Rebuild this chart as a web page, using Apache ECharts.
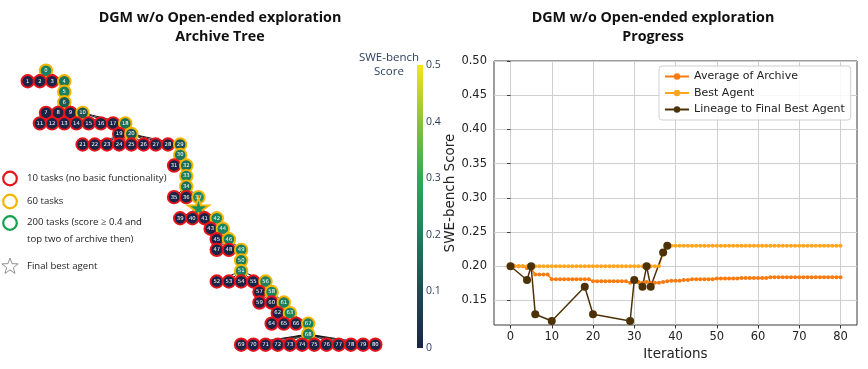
<!DOCTYPE html>
<html>
<head>
<meta charset="utf-8">
<script src="https://cdn.jsdelivr.net/npm/echarts@6/dist/echarts.min.js"></script>
<style>
html, body { margin: 0; padding: 0; background: #fff; }
#chart { width: 868px; height: 369px; }
</style>
</head>
<body>
<div id="chart"></div>
<script>
// archive tree: parent of each node (index = node id)
const parents = [
  null,
  0, 0, 0, 0,                         // 1-4
  4, 5,                               // 5-6
  6, 6, 6, 6,                         // 7-10
  10, 10, 10, 10, 10, 10, 10, 10,     // 11-18
  18, 18,                             // 19-20
  20, 20, 20, 20, 20, 20, 20, 20, 20, // 21-29
  29, 30, 30, 32, 33,                 // 30-34
  34, 34, 34, 37,                     // 35-38
  38, 38, 38, 38,                     // 39-42
  42, 42, 44, 44,                     // 43-46
  46, 46, 46, 49, 50,                 // 47-51
  51, 51, 51, 51, 51,                 // 52-56
  56, 56, 58, 58, 58,                 // 57-61
  61, 61,                             // 62-63
  63, 63, 63, 63, 67,                 // 64-68
  68, 68, 68, 68, 68, 68, 68, 68, 68, 68, 68, 68 // 69-80
];
// SWE-bench score per node (0 = failed the 10 task check)
const scores = [
  0.20,
  0, 0, 0, 0.18,
  0.20, 0.13,
  0, 0, 0, 0.12,
  0, 0, 0, 0, 0, 0, 0, 0.17,
  0, 0.13,
  0, 0, 0, 0, 0, 0, 0, 0, 0.12,
  0.18, 0, 0.17, 0.20, 0.17,
  0, 0, 0.22, 0.23,
  0, 0, 0, 0.21,
  0, 0.21, 0, 0.20,
  0, 0, 0.20, 0.19, 0.20,
  0, 0, 0, 0, 0.21,
  0, 0.21, 0, 0, 0.20,
  0, 0.21,
  0, 0, 0, 0.20, 0.20,
  0, 0, 0, 0, 0, 0, 0, 0, 0, 0, 0, 0
];
const bestNode = 38;

const cmapColors = ['#1b2447', '#1e4a52', '#1c7f5e', '#2cab57', '#8cc23a', '#f9e41b'];
const colorbarTicks = [0, 0.1, 0.2, 0.3, 0.4, 0.5];

// progress plot
const iterations = [
  0, 1, 2, 3, 4, 5, 6, 7, 8, 9, 10, 11, 12, 13, 14, 15, 16, 17, 18, 19,
  20, 21, 22, 23, 24, 25, 26, 27, 28, 29, 30, 31, 32, 33, 34, 35, 36, 37, 38, 39,
  40, 41, 42, 43, 44, 45, 46, 47, 48, 49, 50, 51, 52, 53, 54, 55, 56, 57, 58, 59,
  60, 61, 62, 63, 64, 65, 66, 67, 68, 69, 70, 71, 72, 73, 74, 75, 76, 77, 78, 79, 80
];
const avgScores = [
  0.200, 0.200, 0.200, 0.200, 0.197, 0.197, 0.188, 0.188, 0.188, 0.188,
  0.181, 0.181, 0.181, 0.181, 0.181, 0.181, 0.181, 0.181, 0.181, 0.181,
  0.178, 0.178, 0.178, 0.178, 0.178, 0.178, 0.178, 0.178, 0.178, 0.176,
  0.177, 0.177, 0.176, 0.177, 0.176, 0.176, 0.176, 0.177, 0.178, 0.179,
  0.179, 0.179, 0.180, 0.180, 0.181, 0.181, 0.181, 0.181, 0.181, 0.181,
  0.182, 0.182, 0.182, 0.182, 0.182, 0.182, 0.183, 0.183, 0.183, 0.183,
  0.183, 0.183, 0.183, 0.184, 0.184, 0.184, 0.184, 0.184, 0.184, 0.184,
  0.184, 0.184, 0.184, 0.184, 0.184, 0.184, 0.184, 0.184, 0.184, 0.184,
  0.184
];
const bestScores = [
  0.20, 0.20, 0.20, 0.20, 0.20, 0.20, 0.20, 0.20, 0.20, 0.20,
  0.20, 0.20, 0.20, 0.20, 0.20, 0.20, 0.20, 0.20, 0.20, 0.20,
  0.20, 0.20, 0.20, 0.20, 0.20, 0.20, 0.20, 0.20, 0.20, 0.20,
  0.20, 0.20, 0.20, 0.20, 0.20, 0.20, 0.20, 0.22, 0.23, 0.23,
  0.23, 0.23, 0.23, 0.23, 0.23, 0.23, 0.23, 0.23, 0.23, 0.23,
  0.23, 0.23, 0.23, 0.23, 0.23, 0.23, 0.23, 0.23, 0.23, 0.23,
  0.23, 0.23, 0.23, 0.23, 0.23, 0.23, 0.23, 0.23, 0.23, 0.23,
  0.23, 0.23, 0.23, 0.23, 0.23, 0.23, 0.23, 0.23, 0.23, 0.23,
  0.23
];
const xTicks = [0, 10, 20, 30, 40, 50, 60, 70, 80];
const yTicks = [0.15, 0.20, 0.25, 0.30, 0.35, 0.40, 0.45, 0.50];

const starPath = 'path://M50,0 L61,35 L98,35 L68,57 L79,91 L50,70 L21,91 L32,57 L2,35 L39,35 Z';

function scoreColor (s) {
  return echarts.color.lerp(s / 0.5, cmapColors)
}

// outline star for the legend note
function starPoints (cx, cy, r1, r2) {
  const pts = []
  for (let k = 0; k < 10; k++) {
    const a = -Math.PI / 2 + k * Math.PI / 5
    const r = k % 2 ? r2 : r1
    pts.push([cx + r * Math.cos(a), cy + r * Math.sin(a)])
  }
  return pts
}

// build the nested tree from the parent list
const treeNodes = parents.map(function (p, i) {
  return {
    name: String(i),
    value: scores[i],
    symbol: i === bestNode ? starPath : 'circle',
    symbolSize: i === bestNode ? [21, 20] : 12.5,
    itemStyle: {
      color: scoreColor(scores[i]),
      borderColor: scores[i] > 0 ? '#f2b600' : '#e8141c',
      borderWidth: 1.9
    },
    label: { show: i !== bestNode }
  }
})
parents.forEach(function (p, i) {
  if (p === null) return
  if (!treeNodes[p].children) treeNodes[p].children = []
  treeNodes[p].children.push(treeNodes[i])
})

// lineage = path from root to the final best agent
const lineage = []
for (let n = bestNode; n !== null; n = parents[n]) lineage.unshift([n, scores[n]])

const chart = echarts.init(document.getElementById('chart'))

const tickFont = { fontFamily: 'DejaVu Sans', fontSize: 11.5, color: '#222' }
const titleFont = { fontFamily: 'Open Sans', fontWeight: 'bold', fontSize: 14.3, lineHeight: 19, color: '#111' }
const noteFont = { fontFamily: 'Open Sans', fontSize: 9.6, fill: '#222' }

chart.setOption({
  animation: false,
  title: [
    { text: 'DGM w/o Open-ended exploration\nArchive Tree', left: 215, top: 3, textAlign: 'center', textStyle: titleFont },
    { text: 'DGM w/o Open-ended exploration\nProgress', left: 648, top: 3, textAlign: 'center', textStyle: titleFont }
  ],
  legend: {
    data: ['Average of Archive', 'Best Agent', 'Lineage to Final Best Agent'],
    orient: 'vertical',
    left: 659,
    top: 66,
    padding: [5, 6, 5, 5],
    itemWidth: 24,
    itemHeight: 8,
    itemGap: 5.5,
    backgroundColor: 'rgba(255,255,255,0.85)',
    borderColor: '#d0d0d0',
    borderWidth: 1,
    borderRadius: 3,
    textStyle: { fontFamily: 'DejaVu Sans', fontSize: 11, color: '#222' }
  },
  grid: [
    { left: 494, right: 11, top: 61, bottom: 44, show: true, borderColor: '#3a3a3a', borderWidth: 1, outerBoundsMode: 'none' },
    { left: 417, width: 6, top: 65, bottom: 21, outerBoundsMode: 'none' }
  ],
  xAxis: [
    {
      type: 'value',
      min: -4,
      max: 84,
      name: 'Iterations',
      nameLocation: 'middle',
      nameGap: 19,
      nameTextStyle: { fontFamily: 'DejaVu Sans', fontSize: 13.5, color: '#222' },
      axisLine: { show: false },
      axisTick: { show: true, length: 3.5, customValues: xTicks, lineStyle: { color: '#3a3a3a' } },
      axisLabel: Object.assign({ customValues: xTicks, margin: 6 }, tickFont),
      splitLine: { show: true, lineStyle: { color: '#cfcfcf', width: 1 } }
    },
    { type: 'category', gridIndex: 1, data: [''], show: false }
  ],
  yAxis: [
    {
      type: 'value',
      min: 0.1142,
      max: 0.5,
      name: 'SWE-bench Score',
      nameLocation: 'middle',
      nameGap: 33,
      nameTextStyle: { fontFamily: 'DejaVu Sans', fontSize: 13.5, color: '#222' },
      axisLine: { show: false },
      axisTick: { show: true, length: 3.5, customValues: yTicks, lineStyle: { color: '#3a3a3a' } },
      axisLabel: Object.assign({ customValues: yTicks, margin: 7, formatter: function (v) { return v.toFixed(2) } }, tickFont),
      splitLine: { show: true, lineStyle: { color: '#cfcfcf', width: 1 } }
    },
    {
      type: 'value',
      gridIndex: 1,
      min: 0,
      max: 0.5,
      interval: 0.1,
      position: 'right',
      axisLine: { show: false },
      axisTick: { show: false },
      splitLine: { show: false },
      axisLabel: {
        margin: 3,
        fontFamily: 'Open Sans',
        fontSize: 10.5,
        color: '#2a3f5f',
        formatter: function (v) { return v === 0 ? '0' : v.toFixed(1) }
      }
    }
  ],
  graphic: [
    { type: 'text', x: 389, y: 65, style: { text: 'SWE-bench\nScore', align: 'center', verticalAlign: 'middle', fontFamily: 'Open Sans', fontSize: 11.5, lineHeight: 14, fill: '#2a3f5f' } },
    { type: 'circle', shape: { cx: 10, cy: 178.5, r: 6.8 }, style: { fill: 'none', stroke: '#e8141c', lineWidth: 2.2 } },
    { type: 'text', x: 27, y: 178.5, style: Object.assign({ text: '10 tasks (no basic functionality)', verticalAlign: 'middle' }, noteFont) },
    { type: 'circle', shape: { cx: 10, cy: 201.5, r: 6.8 }, style: { fill: 'none', stroke: '#f2b600', lineWidth: 2.2 } },
    { type: 'text', x: 27, y: 201.5, style: Object.assign({ text: '60 tasks', verticalAlign: 'middle' }, noteFont) },
    { type: 'circle', shape: { cx: 10, cy: 223, r: 6.8 }, style: { fill: 'none', stroke: '#13a150', lineWidth: 2.2 } },
    { type: 'text', x: 27, y: 222.5, style: Object.assign({ text: '200 tasks (score \u2265 0.4 and', verticalAlign: 'middle' }, noteFont) },
    { type: 'text', x: 27, y: 239.5, style: Object.assign({ text: 'top two of archive then)', verticalAlign: 'middle' }, noteFont) },
    { type: 'polygon', shape: { points: starPoints(10, 266.5, 8.5, 3.5) }, style: { fill: 'none', stroke: '#777', lineWidth: 0.8 } },
    { type: 'text', x: 27, y: 266, style: Object.assign({ text: 'Final best agent', verticalAlign: 'middle' }, noteFont) }
  ],
  series: [
    {
      type: 'tree',
      data: [treeNodes[0]],
      orient: 'TB',
      left: 15.5,
      right: 480.5,
      top: 70.7,
      bottom: 24.3,
      roam: false,
      expandAndCollapse: false,
      initialTreeDepth: -1,
      edgeShape: 'curve',
      lineStyle: { color: '#111', width: 1, curveness: 0 },
      label: { position: 'inside', align: 'center', verticalAlign: 'middle', color: '#fff', fontSize: 5.3, fontFamily: 'DejaVu Sans', rotate: 0 },
      leaves: { label: { position: 'inside', align: 'center', verticalAlign: 'middle', rotate: 0 } },
      emphasis: { disabled: true }
    },
    {
      type: 'bar',
      xAxisIndex: 1,
      yAxisIndex: 1,
      data: [0.5],
      barWidth: '100%',
      silent: true,
      itemStyle: {
        color: new echarts.graphic.LinearGradient(0, 1, 0, 0, cmapColors.map(function (c, i) {
          return { offset: colorbarTicks[i] / 0.5, color: c }
        }))
      }
    },
    {
      name: 'Average of Archive',
      type: 'line',
      data: iterations.map(function (x, i) { return [x, avgScores[i]] }),
      color: '#f97b10',
      symbol: 'circle',
      symbolSize: 4,
      lineStyle: { width: 1.5 }
    },
    {
      name: 'Best Agent',
      type: 'line',
      data: iterations.map(function (x, i) { return [x, bestScores[i]] }),
      color: '#ffa51f',
      symbol: 'circle',
      symbolSize: 4,
      lineStyle: { width: 1.5 }
    },
    {
      name: 'Lineage to Final Best Agent',
      type: 'line',
      data: lineage,
      color: '#4d3208',
      symbol: 'circle',
      symbolSize: 8,
      lineStyle: { width: 1.5 }
    }
  ]
})
</script>
</body>
</html>
